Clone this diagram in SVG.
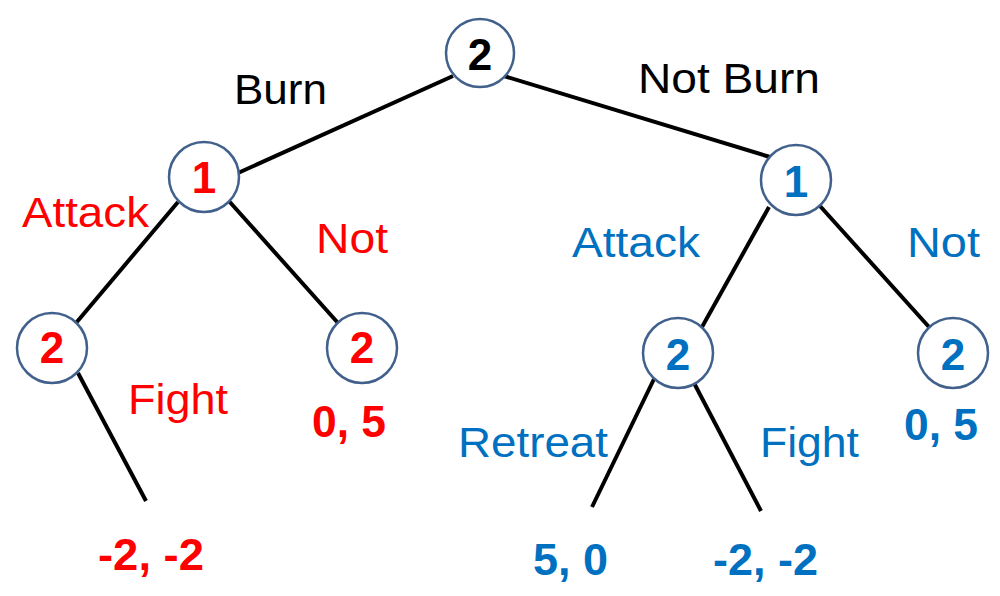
<svg xmlns="http://www.w3.org/2000/svg" width="1000" height="596" viewBox="0 0 1000 596">
<style>
.node circle{fill:#fff;stroke:#41618C;stroke-width:2.5}
.num{font-family:"Liberation Sans",Arial,sans-serif;font-weight:bold;font-size:44px;text-anchor:middle}
.lbl{font-family:"Liberation Sans",Arial,sans-serif;font-size:43px}
.pay{font-family:"Liberation Sans",Arial,sans-serif;font-weight:bold;font-size:44px}
.red{fill:#FF0000}
.blue{fill:#0070C0}
.blk{fill:#000}
#edges line{stroke:#000;stroke-width:4;stroke-linecap:butt}
</style>
<rect width="1000" height="596" fill="#fff"/>
<g id="edges">
<line x1="453" y1="76" x2="238" y2="173"/>
<line x1="504" y1="76" x2="770" y2="157"/>
<line x1="178" y1="202" x2="76" y2="323"/>
<line x1="228" y1="200" x2="338" y2="323"/>
<line x1="78" y1="373" x2="146" y2="501"/>
<line x1="769" y1="207" x2="702" y2="327"/>
<line x1="820" y1="206" x2="929" y2="327"/>
<line x1="654" y1="379" x2="592" y2="507"/>
<line x1="694" y1="383" x2="761" y2="511"/>
</g>
<g id="root" class="node"><circle cx="480" cy="53" r="34"/><text class="num blk" x="480" y="70">2</text></g>
<g id="p1-burn" class="node"><circle cx="204" cy="177" r="35"/><text class="num red" x="204" y="193">1</text></g>
<g id="p2-burn-attack" class="node"><circle cx="52" cy="348" r="35"/><text class="num red" x="52" y="363">2</text></g>
<g id="p2-burn-not" class="node"><circle cx="362" cy="348" r="35"/><text class="num red" x="362" y="363">2</text></g>
<g id="p1-notburn" class="node"><circle cx="796" cy="180" r="35"/><text class="num blue" x="796" y="197">1</text></g>
<g id="p2-notburn-attack" class="node"><circle cx="678" cy="353" r="35"/><text class="num blue" x="678" y="370">2</text></g>
<g id="p2-notburn-not" class="node"><circle cx="953" cy="353" r="35"/><text class="num blue" x="953" y="370">2</text></g>
<g id="labels">
<text class="lbl blk" x="234" y="104" textLength="93" lengthAdjust="spacingAndGlyphs">Burn</text>
<text class="lbl blk" x="638" y="93" textLength="182" lengthAdjust="spacingAndGlyphs">Not Burn</text>
<text class="lbl red" x="22" y="227" textLength="127" lengthAdjust="spacingAndGlyphs">Attack</text>
<text class="lbl red" x="316" y="253" textLength="72" lengthAdjust="spacingAndGlyphs">Not</text>
<text class="lbl red" x="128" y="414" textLength="100" lengthAdjust="spacingAndGlyphs">Fight</text>
<text class="pay red" x="312" y="437" textLength="74" lengthAdjust="spacingAndGlyphs">0, 5</text>
<text class="pay red" x="98" y="570" textLength="106" lengthAdjust="spacingAndGlyphs">-2, -2</text>
<text class="lbl blue" x="572" y="257" textLength="128" lengthAdjust="spacingAndGlyphs">Attack</text>
<text class="lbl blue" x="907" y="257" textLength="73" lengthAdjust="spacingAndGlyphs">Not</text>
<text class="lbl blue" x="458" y="457" textLength="150" lengthAdjust="spacingAndGlyphs">Retreat</text>
<text class="lbl blue" x="760" y="457" textLength="99" lengthAdjust="spacingAndGlyphs">Fight</text>
<text class="pay blue" x="904" y="440" textLength="74" lengthAdjust="spacingAndGlyphs">0, 5</text>
<text class="pay blue" x="533" y="575" textLength="75" lengthAdjust="spacingAndGlyphs">5, 0</text>
<text class="pay blue" x="713" y="575" textLength="105" lengthAdjust="spacingAndGlyphs">-2, -2</text>
</g>
</svg>
